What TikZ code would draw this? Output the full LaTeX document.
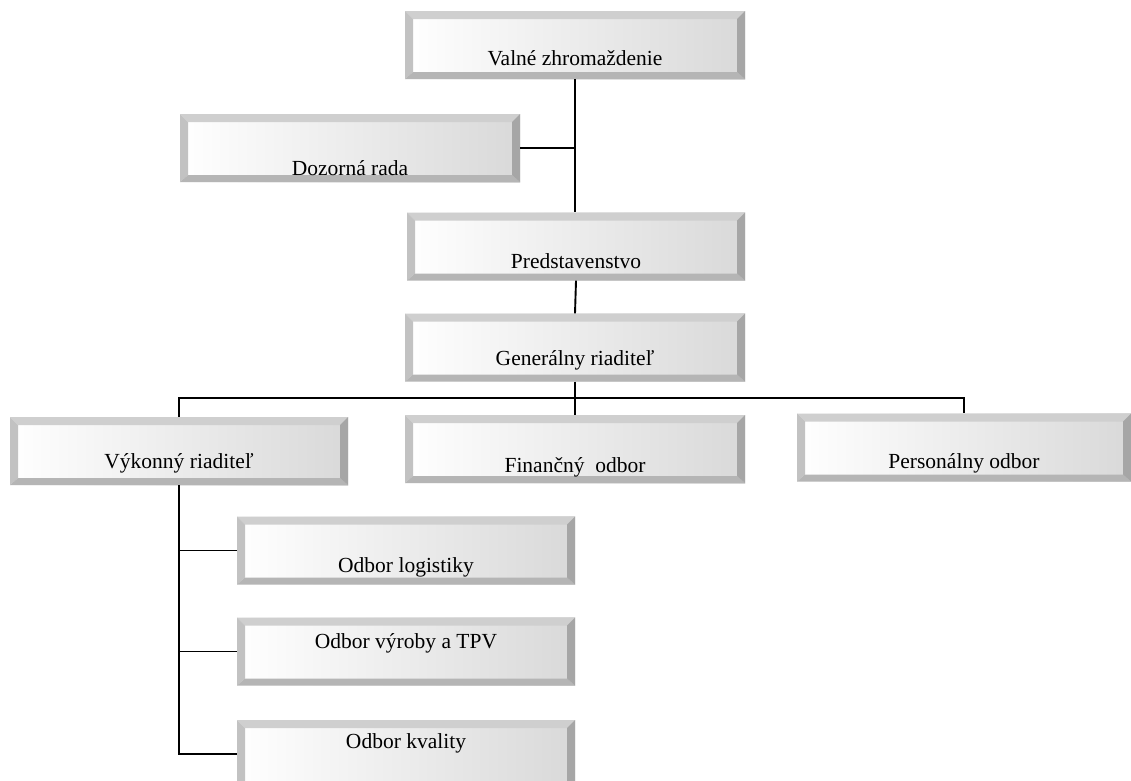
\documentclass[tikz,border=0pt]{standalone}
\usepackage{fontspec}
\setmainfont{Liberation Serif}
\tikzset{
  bevtop/.style={fill=gray!38},
  bevleft/.style={fill=gray!48},
  bevbot/.style={fill=gray!58},
  bevright/.style={fill=gray!70},
  orgbox/.style={rectangle, minimum width=340pt, minimum height=68pt, inner sep=0pt,
    font=\fontsize{21.5}{24}\selectfont, text=black,
    left color=white, right color=gray!30,
    path picture={
      \coordinate (bbA) at (path picture bounding box.north west);
      \coordinate (bbB) at (path picture bounding box.north east);
      \coordinate (bbC) at (path picture bounding box.south east);
      \coordinate (bbD) at (path picture bounding box.south west);
      \coordinate (bba) at ([xshift=8pt,yshift=-8pt]bbA);
      \coordinate (bbb) at ([xshift=-8pt,yshift=-8pt]bbB);
      \coordinate (bbc) at ([xshift=-8pt,yshift=7pt]bbC);
      \coordinate (bbd) at ([xshift=8pt,yshift=7pt]bbD);
      \fill[bevtop] (bbA) -- (bbB) -- (bbb) -- (bba) -- cycle;
      \fill[bevleft] (bbA) -- (bba) -- (bbd) -- (bbD) -- cycle;
      \fill[bevbot] (bbD) -- (bbd) -- (bbc) -- (bbC) -- cycle;
      \fill[bevright] (bbB) -- (bbC) -- (bbc) -- (bbb) -- cycle;
    }},
  link/.style={draw=black, line width=1.9pt}
}
\begin{document}
\begin{tikzpicture}[x=1pt,y=-1pt]
\useasboundingbox (0,0) rectangle (1131,780);
\clip (0,0) rectangle (1131,780);
\fill[white] (0,0) rectangle (1131,780);

\node[orgbox, text height=50pt, text depth=10pt] (valne) at (575,45) {Valné zhromaždenie};
\node[orgbox, text height=57pt, text depth=3pt] (dozorna) at (350,148) {Dozorná rada};
\node[orgbox, minimum width=338pt, text height=51.5pt, text depth=8.5pt] (predst) at (576,246.5) {Predstavenstvo};
\node[orgbox, text height=47.5pt, text depth=12.5pt] (gen) at (575,347.5) {Generálny riaditeľ};
\node[orgbox, text height=53pt, text depth=7pt] (fin) at (575,449) {Finančný\ \ odbor};
\node[orgbox, minimum width=338pt, text height=47pt, text depth=13pt] (vyk) at (179,451) {Výkonný riaditeľ};
\node[orgbox, minimum width=334pt, text height=50.5pt, text depth=9.5pt] (pers) at (964,447.5) {Personálny odbor};
\node[orgbox, minimum width=338pt, text height=51.5pt, text depth=8.5pt] (log) at (406,550.5) {Odbor logistiky};
\node[orgbox, minimum width=338pt, text height=26.5pt, text depth=33.5pt] (vyr) at (406,651.5) {Odbor výroby a TPV};
\node[orgbox, minimum width=338pt, text height=24pt, text depth=36pt] (kval) at (406,754) {Odbor kvality};

\coordinate (bus) at (575,398);

\draw[link] (valne.south) -- (predst.north -| valne.south);
\draw[link] (dozorna.east) -- (dozorna.east -| valne.south);
\draw[link] (predst.south) -- (gen.north);
\draw[link] (gen.south) -- (fin.north);
\draw[link] (vyk.north) -- (vyk.north |- bus) -- (pers.north |- bus) -- (pers.north);
\draw[link] (vyk.south) -- (vyk.south |- kval.west) -- (kval.west);
\draw[link] (vyk.south |- log.west) -- (log.west);
\draw[link] (vyk.south |- vyr.west) -- (vyr.west);
\end{tikzpicture}
\end{document}
